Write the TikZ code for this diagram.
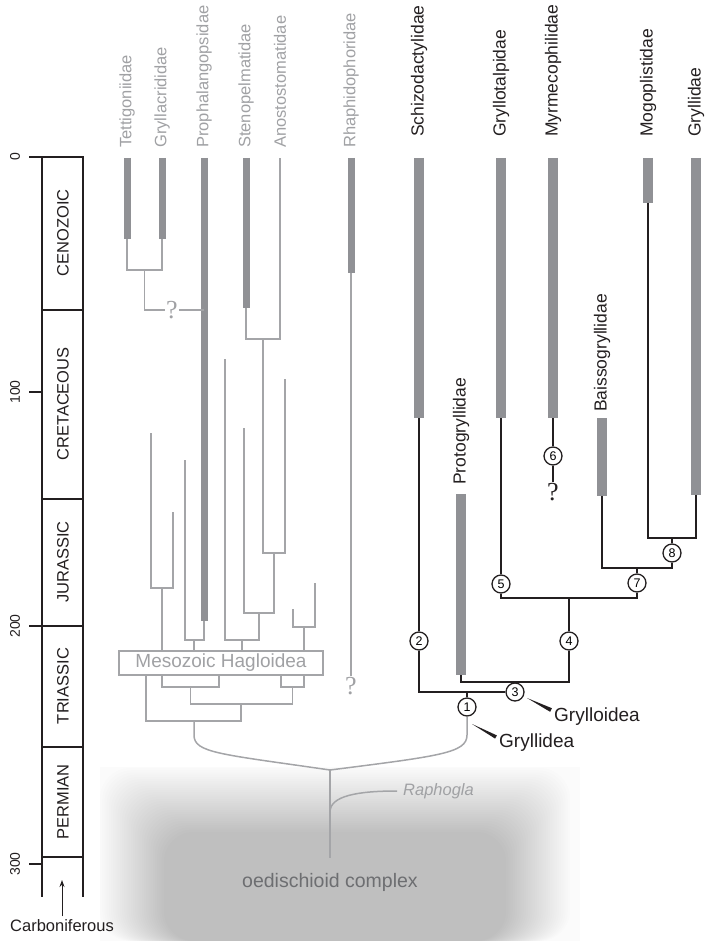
\documentclass[tikz,border=0pt]{standalone}
\usepackage{fontspec}
\setmainfont{Liberation Sans}
\newfontfamily\qfont{Liberation Serif}
\usetikzlibrary{arrows.meta}

\definecolor{linegray}{HTML}{A4A5A8}
\definecolor{bargray}{HTML}{909195}
\definecolor{textgray}{HTML}{A0A1A4}
\definecolor{inkblack}{HTML}{231F20}
\definecolor{complexgray}{HTML}{6D6E71}

\begin{document}
\begin{tikzpicture}[x=1pt, y=-1pt,
    gline/.style={draw=linegray, line width=1.5pt},
    bline/.style={draw=inkblack, line width=2.2pt},
    gbar/.style={draw=bargray, line width=7pt},
    bbar/.style={draw=bargray, line width=10pt},
    glabel/.style={rotate=90, anchor=west, inner sep=0pt, text=textgray, font=\fontsize{16.5}{18}\selectfont},
    blabel/.style={rotate=90, anchor=west, inner sep=0pt, text=inkblack, font=\fontsize{17.5}{19}\selectfont},
    period/.style={rotate=90, inner sep=0pt, text=inkblack, font=\fontsize{16.5}{18}\selectfont},
    age/.style={rotate=90, inner sep=0pt, text=inkblack, font=\fontsize{14}{16}\selectfont},
    circ/.style={circle, draw=inkblack, line width=1.3pt, fill=white, minimum size=18pt, inner sep=0pt, font=\fontsize{12.5}{12.5}\selectfont},
    gq/.style={inner sep=1pt, text=textgray, font=\qfont\fontsize{26}{26}\selectfont},
    bq/.style={inner sep=1pt, text=inkblack, font=\qfont\fontsize{26}{26}\selectfont},
    taxon/.style={anchor=west, inner sep=0pt, text=inkblack, font=\fontsize{19}{21}\selectfont},
    wedge/.style={fill=inkblack},
    tscale/.style={draw=inkblack, line width=2.2pt},
    arrow/.style={draw=inkblack, line width=1pt, -{Stealth[length=7pt,width=5pt]}}
]
\useasboundingbox (0,0) rectangle (704,941);

% oedischioid background
\fill[black!1.5] (100,767) rectangle (580,941);
\foreach \i in {0,...,29}
    \fill[black, opacity=0.0085, rounded corners=30pt] (100+2.2*\i,768+2.2*\i) rectangle (570-2.2*\i,941);
\node[text=complexgray, font=\fontsize{19.5}{21}\selectfont] (oed) at (330,882) {oedischioid complex};

% time scale
\draw[tscale] (29,157) -- (83,157) -- (83,897);
\draw[tscale] (42,157) -- (42,897);
\foreach \y in {310,499,626,747,857}
    \draw[tscale] (42,\y) -- (83,\y);
\foreach \y/\t in {157/0,392/100,626/200,864/300} {
    \draw[tscale] (29,\y) -- (42,\y);
    \node[age] (age\t) at (15,\y) {\t};
}
\node[period] (ceno) at (63,233) {CENOZOIC};
\node[period] (creta) at (63,404) {CRETACEOUS};
\node[period] (jura) at (63,562) {JURASSIC};
\node[period] (trias) at (63,686) {TRIASSIC};
\node[period] (perm) at (63,802) {PERMIAN};
\node[font=\fontsize{16.5}{18}\selectfont, text=inkblack] (carb) at (62,926) {Carboniferous};
\coordinate (arrE) at (62,880);
\draw[arrow] (carb) -- (arrE);

% grey lineages
\node[glabel] (tett) at (127,148) {Tettigoniidae};
\node[glabel] (gryc) at (162,148) {Gryllacrididae};
\node[glabel] (proph) at (204,148) {Prophalangopsidae};
\node[glabel] (sten) at (246,148) {Stenopelmatidae};
\node[glabel] (anos) at (280,148) {Anostostomatidae};
\node[glabel] (rhaph) at (351,148) {Rhaphidophoridae};
\foreach \x/\y in {127/239, 162/239, 204/621, 246/308, 351/273}
    \draw[gbar] (\x,158) -- (\x,\y);

\coordinate (tettE) at (127,239);
\coordinate (grycE) at (162,239);
\coordinate (prophE) at (204,621);
\coordinate (stenE) at (246,308);
\coordinate (anosE) at (280,158);
\coordinate (rhaphE) at (351,273);
\coordinate (l151) at (151,433);
\coordinate (l173) at (173,512);
\coordinate (l185) at (185,460);
\coordinate (l225) at (225,359);
\coordinate (l244) at (244,428);
\coordinate (l285) at (285,379);
\coordinate (l293) at (293,609);
\coordinate (l315) at (315,583);

\coordinate (tg) at (144.5,270);
\draw[gline] (tettE) |- (tg) -| (grycE);
\node[gq] (q1) at (172,310) {?};
\coordinate (prophQ) at (204,310);
\draw[gline] (tg) |- (q1);
\draw[gline] (q1) -- (prophQ);

\node[draw=linegray, line width=1.3pt, fill=white, minimum width=204pt, minimum height=24pt, inner sep=0pt,
      text=textgray, font=\fontsize{19}{21}\selectfont] (hag) at (221,663) {Mesozoic Hagloidea};

\coordinate (j1) at (263,339);
\coordinate (j2) at (274,553);
\coordinate (j3) at (259,613);
\coordinate (j4) at (242,640);
\coordinate (j5) at (194,640);
\coordinate (j6) at (162,588);
\coordinate (j7) at (304,627);
\draw[gline] (stenE) |- (j1) -| (anosE);
\draw[gline] (j1) |- (j2) -| (l285);
\draw[gline] (l244) |- (j3) -| (j2);
\draw[gline] (l225) |- (j4) -| (j3);
\draw[gline] (l185) |- (j5) -| (prophE);
\draw[gline] (l151) |- (j6) -| (l173);
\draw[gline] (l293) |- (j7) -| (l315);
\foreach \j in {j4,j5,j6,j7}
    \draw[gline] (\j) -- (\j |- hag.north);

\node[gq] (rq) at (351,686) {?};
\draw[gline] (rhaphE) -- (rq);

% below the Hagloidea box
\coordinate (s1) at (146,675);
\coordinate (s2) at (162,675);
\coordinate (s3) at (219,675);
\coordinate (s4) at (281,675);
\coordinate (s5) at (304,675);
\coordinate (j10) at (190.5,687);
\coordinate (j11) at (292.5,687);
\coordinate (j9) at (241,704);
\coordinate (j8) at (194,721);
\draw[gline] (s2) |- (j10) -| (s3);
\draw[gline] (s4) |- (j11) -| (s5);
\draw[gline] (j10) |- (j9) -| (j11);
\draw[gline] (s1) |- (j8) -| (j9);

% black lineages
\node[blabel] (schiz) at (419,137) {Schizodactylidae};
\node[blabel] (grylt) at (501,137) {Gryllotalpidae};
\node[blabel] (myrm) at (553,137) {Myrmecophilidae};
\node[blabel] (mogo) at (648,137) {Mogoplistidae};
\node[blabel] (gryll) at (696,137) {Gryllidae};
\node[blabel] (baiss) at (602,412) {Baissogryllidae};
\node[blabel] (protog) at (461,485) {Protogryllidae};
\foreach \x/\a/\b in {419/158/418, 501/158/418, 553/158/418, 648/158/203, 696/158/495, 602/418/496, 461/494/675}
    \draw[bbar] (\x,\a) -- (\x,\b);

\coordinate (schizE) at (419,418);
\coordinate (gryltE) at (501,418);
\coordinate (myrmE) at (553,418);
\coordinate (mogoE) at (648,203);
\coordinate (gryllE) at (696,495);
\coordinate (baissE) at (602,496);
\coordinate (protogE) at (461,675);

\node[circ] (c1) at (467,707) {1};
\node[circ] (c2) at (419,641) {2};
\node[circ] (c3) at (515,692) {3};
\node[circ] (c4) at (569,641) {4};
\node[circ] (c5) at (501,584) {5};
\node[circ] (c6) at (553,456) {6};
\node[circ] (c7) at (637,583) {7};
\node[circ] (c8) at (672,553) {8};
\node[bq] (mq) at (553,492) {?};

\coordinate (k1) at (672,538);
\coordinate (k2) at (637,568);
\coordinate (k3) at (569,598);
\coordinate (k4) at (515,682);
\coordinate (k5) at (467,692);
\draw[bline] (mogoE) |- (k1) -| (gryllE);
\draw[bline] (k1) -- (c8);
\draw[bline] (baissE) |- (k2) -| (c8);
\draw[bline] (k2) -- (c7);
\draw[bline] (gryltE) -- (c5);
\draw[bline] (c5) |- (k3) -| (c7);
\draw[bline] (k3) -- (c4);
\draw[bline] (protogE) |- (k4) -| (c4);
\draw[bline] (k4) -- (c3);
\draw[bline] (schizE) -- (c2);
\draw[bline] (c2) |- (c3);
\draw[bline] (k5) -- (c1);
\draw[bline] (myrmE) -- (c6);
\draw[bline] (c6) -- (mq);

% superfamily pointers
\node[taxon] (grylloid) at (554,717) {Grylloidea};
\node[taxon] (gryllid) at (499,743) {Gryllidea};
\coordinate (w3a) at (527,698);
\coordinate (w3b) at (550.1,711.8);
\coordinate (w3c) at (551.9,708.2);
\fill[wedge] (w3a) -- (w3b) -- (w3c) -- cycle;
\coordinate (w1a) at (472,724);
\coordinate (w1b) at (495.1,738.6);
\coordinate (w1c) at (496.9,735.4);
\fill[wedge] (w1a) -- (w1b) -- (w1c) -- cycle;

% root of the tree
\coordinate (root) at (330,770);
\coordinate (trunk) at (330,858);
\coordinate (rb) at (330,812);
\draw[gline] (j8) -- ++(0,14) .. controls +(0,18) and +(-110,-16) .. (root);
\draw[gline] (c1) -- ++(0,28) .. controls +(0,18) and +(110,-14) .. (root);
\draw[gline] (root) -- (trunk);
\node[anchor=west, inner xsep=6pt, inner ysep=0pt, text=textgray, font=\itshape\fontsize{16.5}{18}\selectfont] (rapho) at (397,791) {Raphogla};
\draw[gline] (rb) .. controls +(0,-16) and +(-40,0) .. (rapho.west);

\end{tikzpicture}
\end{document}
